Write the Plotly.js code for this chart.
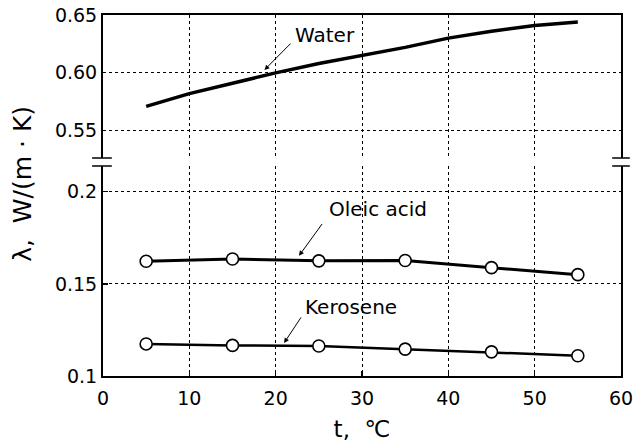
<!DOCTYPE html>
<html>
<head>
<meta charset="utf-8">
<script src="https://cdn.plot.ly/plotly-3.0.1.min.js"></script>
<style>html,body{margin:0;padding:0;background:#fff;}#chart{width:637px;height:442px;}</style>
</head>
<body>
<div id="chart"></div>
<script>
// Data
const waterT = [5, 10, 15, 20, 25, 30, 35, 40, 45, 50, 55];
const waterLambda = [0.571, 0.582, 0.591, 0.600, 0.608, 0.615, 0.622, 0.630, 0.636, 0.641, 0.644];

const oleicT = [5, 15, 25, 35, 45, 55];
const oleicLambda = [0.1623, 0.1635, 0.1625, 0.1627, 0.1588, 0.1550];

const keroT = [5, 15, 25, 35, 45, 55];
const keroLambda = [0.1174, 0.1166, 0.1163, 0.1146, 0.1131, 0.1110];

const xTicks = [0, 10, 20, 30, 40, 50, 60];
const yTopTicks = [0.55, 0.60, 0.65];
const yTopLabels = ["0.55", "0.60", "0.65"];
const yBotTicks = [0.1, 0.15, 0.2];
const yBotLabels = ["0.1", "0.15", "0.2"];

const FONT = "DejaVu Sans, Liberation Sans, sans-serif";
const plotTop = 15, plotBottom = 376, gapTop = 158, gapBot = 166;
const H = plotBottom - plotTop;
const botDomain = [0, (plotBottom - gapBot) / H];
const topDomain = [(plotBottom - gapTop) / H, 1];

const markerStyle = {symbol: 'circle', size: 12, color: '#ffffff', line: {color: '#000000', width: 1.6}};

const traces = [
  {x: waterT, y: waterLambda, xaxis: 'x2', yaxis: 'y2', mode: 'lines', line: {color: '#000', width: 3.5}, hoverinfo: 'skip'},
  {x: oleicT, y: oleicLambda, xaxis: 'x', yaxis: 'y', mode: 'lines+markers', line: {color: '#000', width: 3}, marker: markerStyle, cliponaxis: false},
  {x: keroT, y: keroLambda, xaxis: 'x', yaxis: 'y', mode: 'lines+markers', line: {color: '#000', width: 2.5}, marker: markerStyle, cliponaxis: false}
];

const gridCommon = {showgrid: true, gridcolor: '#000', gridwidth: 1, griddash: 'dot', zeroline: false,
  showline: true, linecolor: '#000', linewidth: 2, ticks: 'inside', ticklen: 5, tickcolor: '#000', tickwidth: 1.5,
  tickfont: {family: FONT, size: 19, color: '#000'}};

const layout = {
  width: 637, height: 442,
  margin: {l: 103, r: 16, t: plotTop, b: 442 - plotBottom},
  paper_bgcolor: '#fff', plot_bgcolor: '#fff',
  showlegend: false,
  font: {family: FONT, color: '#000'},
  xaxis: Object.assign({}, gridCommon, {range: [0, 60], tickvals: xTicks, anchor: 'y', mirror: false,
    ticklabelstandoff: 4,
    title: {text: 't,  ℃', font: {family: FONT, size: 23, color: '#000'}, standoff: 14}}),
  xaxis2: Object.assign({}, gridCommon, {range: [0, 60], tickvals: xTicks, anchor: 'y2', side: 'top', matches: 'x',
    showticklabels: false, ticks: '', mirror: false}),
  yaxis: Object.assign({}, gridCommon, {domain: botDomain, range: [0.1, 0.2 + (191.7 - gapBot) / 92 * 0.05],
    tickvals: yBotTicks, ticktext: yBotLabels, mirror: true, anchor: 'x'}),
  yaxis2: Object.assign({}, gridCommon, {domain: topDomain, range: [0.55 - (gapTop - 130.7) / 57.8 * 0.05, 0.65],
    tickvals: yTopTicks, ticktext: yTopLabels, mirror: true, anchor: 'x2', ticks: ''}),
  annotations: [
    {text: 'λ,  W/(m · K)', xref: 'paper', yref: 'paper', x: -0.156, y: 0.533, textangle: -90, showarrow: false,
     font: {family: FONT, size: 25, color: '#000'}, xanchor: 'center', yanchor: 'middle'},
    {text: 'Water', xref: 'x2', yref: 'y2', x: 22.0, y: 0.6327, showarrow: false,
     font: {family: FONT, size: 20, color: '#000'}, xanchor: 'left', yanchor: 'middle'},
    {xref: 'x2', yref: 'y2', x: 18.7, y: 0.6025, ax: 21.9, ay: 0.6266, axref: 'x2', ayref: 'y2', text: '',
     showarrow: true, arrowhead: 2, arrowsize: 1, arrowwidth: 1, arrowcolor: '#000'},
    {text: 'Oleic acid', xref: 'x', yref: 'y', x: 25.95, y: 0.1904, showarrow: false,
     font: {family: FONT, size: 20, color: '#000'}, xanchor: 'left', yanchor: 'middle'},
    {xref: 'x', yref: 'y', x: 22.7, y: 0.1652, ax: 25.5, ay: 0.1833, axref: 'x', ayref: 'y', text: '',
     showarrow: true, arrowhead: 2, arrowsize: 1, arrowwidth: 1, arrowcolor: '#000'},
    {text: 'Kerosene', xref: 'x', yref: 'y', x: 23.2, y: 0.1377, showarrow: false,
     font: {family: FONT, size: 20, color: '#000'}, xanchor: 'left', yanchor: 'middle'},
    {xref: 'x', yref: 'y', x: 20.97, y: 0.1179, ax: 23.05, ay: 0.1326, axref: 'x', ayref: 'y', text: '',
     showarrow: true, arrowhead: 2, arrowsize: 1, arrowwidth: 1, arrowcolor: '#000'}
  ],
  shapes: [
    {type: 'line', xref: 'paper', yref: 'paper', x0: -0.021, x1: 0.017, y0: topDomain[0], y1: topDomain[0], line: {color: '#000', width: 1.5}},
    {type: 'line', xref: 'paper', yref: 'paper', x0: -0.021, x1: 0.017, y0: botDomain[1], y1: botDomain[1], line: {color: '#000', width: 1.5}},
    {type: 'line', xref: 'paper', yref: 'paper', x0: 0.983, x1: 1.017, y0: topDomain[0], y1: topDomain[0], line: {color: '#000', width: 1.5}},
    {type: 'line', xref: 'paper', yref: 'paper', x0: 0.983, x1: 1.017, y0: botDomain[1], y1: botDomain[1], line: {color: '#000', width: 1.5}}
  ]
};

Plotly.newPlot('chart', traces, layout, {staticPlot: true, displayModeBar: false});
</script>
</body>
</html>
